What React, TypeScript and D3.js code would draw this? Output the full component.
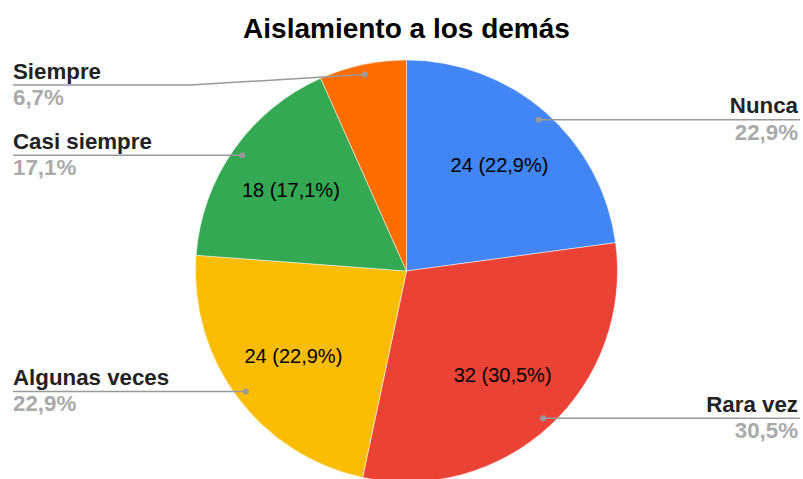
import React from "react";
import * as d3 from "d3";

const categories = ["Nunca", "Rara vez", "Algunas veces", "Casi siempre", "Siempre"];
const values = [24, 32, 24, 18, 7];
const colors = ["#4285F4", "#EA4335", "#FBBC04", "#34A853", "#FF6D01"];
const title = "Aislamiento a los demás";

const W = 803;
const H = 479;
const cx = 406.5;
const cy = 271;
const R = 211;
const FONT = "'Liberation Sans', Arial, sans-serif";

export default function App() {
  const total = d3.sum(values);
  const pie = d3.pie<number>().sort(null).value((d) => d);
  const arcs = pie(values);
  const arc = d3.arc<d3.PieArcDatum<number>>().innerRadius(0).outerRadius(R);
  const fmt = (v: number) => (v / total * 100).toFixed(1).replace(".", ",") + "%";

  return (
    <svg width={W} height={H} style={{ position: "absolute", left: 0, top: 0, background: "#fff" }} fontFamily={FONT}>
      <rect width={W} height={H} fill="#fff" />
      <text x={cx} y={38} textAnchor="middle" fontSize={28} fontWeight="bold" fill="#000">{title}</text>
      <g transform={`translate(${cx},${cy})`}>
        {arcs.map((a, i) => (
          <path key={i} d={arc(a) || ""} fill={colors[i]} stroke="#fff" strokeWidth={0.5} />
        ))}
        {arcs.map((a, i) => {
          if (values[i] / total < 0.1) return null;
          const mid = (a.startAngle + a.endAngle) / 2;
          const d = R * 0.67;
          const x = Math.sin(mid) * d;
          const y = -Math.cos(mid) * d;
          return (
            <text key={"l" + i} x={x} y={y + 7} textAnchor="middle" fontSize={20} fill="#000">
              {`${values[i]} (${fmt(values[i])})`}
            </text>
          );
        })}
      </g>
      {arcs.map((a, i) => {
        const mid = (a.startAngle + a.endAngle) / 2;
        const d = R * 0.952;
        const dx = cx + Math.sin(mid) * d;
        const dy = cy - Math.cos(mid) * d;
        const right = Math.sin(mid) > 0;
        const ly = Math.max(dy, 85);
        const xEnd = right ? 800 : 13;
        let path: string;
        if (ly !== dy) {
          const bend = 190;
          path = `M${dx},${dy}L${bend},${ly}L${xEnd},${ly}`;
        } else {
          path = `M${dx},${dy}L${xEnd},${ly}`;
        }
        const tx = right ? 798 : 13;
        const anchor = right ? "end" : "start";
        return (
          <g key={"c" + i}>
            <path d={path} fill="none" stroke="#999" strokeWidth={1.5} />
            <circle cx={dx} cy={dy} r={3} fill="#999" />
            <text x={tx} y={ly - 6.5} textAnchor={anchor} fontSize={22.3} fontWeight="bold" fill="#222">{categories[i]}</text>
            <text x={tx} y={ly + 20} textAnchor={anchor} fontSize={22.3} fontWeight="bold" fill="#aaa">{fmt(values[i])}</text>
          </g>
        );
      })}
    </svg>
  );
}
